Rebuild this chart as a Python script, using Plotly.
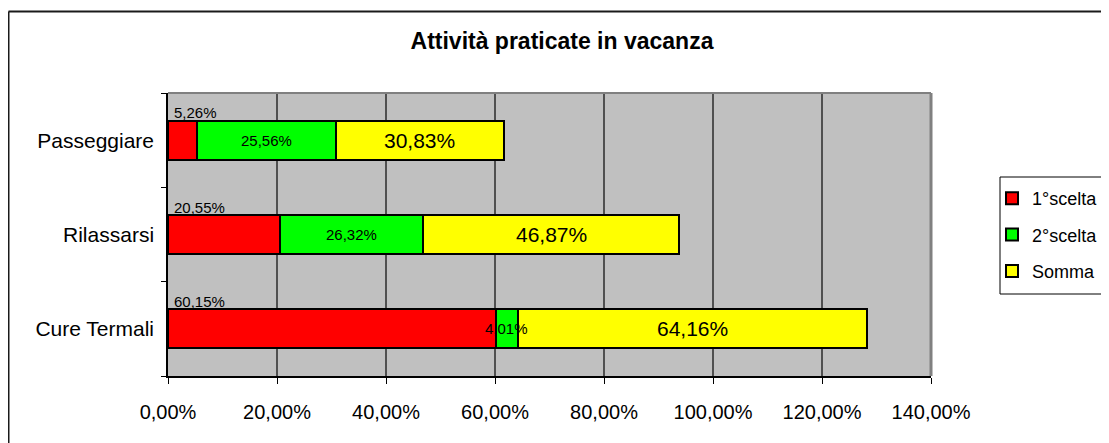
import plotly.graph_objects as go

# ---- data ----
categories = ["Cure Termali", "Rilassarsi", "Passeggiare"]  # bottom -> top
prima_scelta = [60.15, 20.55, 5.26]
seconda_scelta = [4.01, 26.32, 25.56]
somma = [64.16, 46.87, 30.83]
series_names = ["1°scelta", "2°scelta", "Somma"]
series_colors = ["#FF0000", "#00FF00", "#FFFF00"]
title_text = "Attività praticate in vacanza"
x_ticks = [0, 20, 40, 60, 80, 100, 120, 140]

FONT = "Arial, Liberation Sans, sans-serif"
OFF = 8  # the page body margin shifts the figure by this much
W, H = 1109 - OFF, 443 - OFF
L, R, T, B = 168 - OFF, 931 - OFF, 93 - OFF, 376 - OFF  # plot area in figure pixels


def fmt(v):
    return f"{v:.2f}%".replace(".", ",")


def px_x(p):  # page pixel -> paper
    return (p - OFF - L) / (R - L)


def px_y(p):
    return (B - (p - OFF)) / (B - T)


fig = go.Figure()
series = [prima_scelta, seconda_scelta, somma]
for name, vals, col in zip(series_names, series, series_colors):
    fig.add_trace(go.Bar(
        y=categories, x=vals, orientation="h", name=name,
        marker=dict(color=col, line=dict(color="#000000", width=2)),
        width=0.41, textposition="none",
        legendgroup=name, hoverinfo="skip",
    ))

# labels: 1a scelta above the bar at its left; others centred on their segment
for c, v in zip(categories, prima_scelta):
    fig.add_annotation(x=0, y=c, xref="x", yref="y", text=fmt(v),
                       showarrow=False, xanchor="left", yanchor="bottom",
                       xshift=4, yshift=17,
                       font=dict(family=FONT, size=15, color="#000000"))
for c, a, v in zip(categories, prima_scelta, seconda_scelta):
    fig.add_annotation(x=a + v / 2, y=c, xref="x", yref="y", text=fmt(v),
                       showarrow=False, xanchor="center", yanchor="middle",
                       font=dict(family=FONT, size=15, color="#000000"))
for c, a, b, v in zip(categories, prima_scelta, seconda_scelta, somma):
    fig.add_annotation(x=a + b + v / 2, y=c, xref="x", yref="y", text=fmt(v),
                       showarrow=False, xanchor="center", yanchor="middle",
                       font=dict(family=FONT, size=21, color="#000000"))

shapes = []
# plot area top & right border (gray)
shapes.append(dict(type="line", xref="paper", yref="paper", x0=0, x1=1, y0=1, y1=1,
                   line=dict(color="#808080", width=2), layer="above"))
shapes.append(dict(type="line", xref="paper", yref="paper", x0=1, x1=1, y0=0, y1=1,
                   line=dict(color="#808080", width=3), layer="above"))
# chart outer border (top & left visible)
shapes.append(dict(type="line", xref="paper", yref="paper",
                   x0=px_x(8.5), x1=px_x(1115), y0=px_y(11.5), y1=px_y(11.5),
                   line=dict(color="#1a1a1a", width=2)))
shapes.append(dict(type="line", xref="paper", yref="paper",
                   x0=px_x(8.5), x1=px_x(8.5), y0=px_y(11.5), y1=px_y(450),
                   line=dict(color="#1a1a1a", width=2)))
# legend frame
shapes.append(dict(type="rect", xref="paper", yref="paper",
                   x0=px_x(1000), x1=px_x(1103), y0=px_y(294), y1=px_y(177),
                   line=dict(color="#000000", width=1), fillcolor="rgba(0,0,0,0)"))

fig.update_layout(
    width=W, height=H,
    margin=dict(l=L, r=W - R, t=T, b=H - B, pad=0, autoexpand=False),
    paper_bgcolor="#FFFFFF", plot_bgcolor="#C0C0C0",
    barmode="stack",
    font=dict(family=FONT, color="#000000"),
    title=dict(text=title_text, x=px_x(562), xref="paper", xanchor="center",
               y=1 - (41 - OFF) / H, yref="container", yanchor="middle",
               font=dict(family=FONT, size=23, color="#000000", weight="bold")),
    shapes=shapes,
    legend=dict(x=px_x(992), y=px_y(180), xanchor="left", yanchor="top",
                xref="paper", yref="paper",
                bgcolor="rgba(0,0,0,0)", borderwidth=0,
                font=dict(family=FONT, size=18, color="#000000"),
                traceorder="grouped", tracegroupgap=10, itemwidth=30),
    showlegend=True,
)

fig.update_xaxes(range=[0, 140], tickvals=x_ticks, ticktext=[fmt(v) for v in x_ticks],
                 showgrid=True, gridcolor="#505050", gridwidth=1.5,
                 showline=True, linecolor="#000000", linewidth=2,
                 ticks="outside", ticklen=6, tickcolor="#000000", tickwidth=1,
                 tickfont=dict(family=FONT, size=20, color="#000000"),
                 ticklabelstandoff=11, zeroline=False, fixedrange=True)
fig.update_yaxes(categoryorder="array", categoryarray=categories, range=[-0.5, 2.5],
                 showgrid=False, showline=True, linecolor="#000000", linewidth=1.5,
                 ticks="outside", ticklen=5, tickcolor="#000000", tickwidth=1,
                 tickson="boundaries",
                 tickfont=dict(family=FONT, size=21, color="#000000"),
                 ticklabelstandoff=8, fixedrange=True)

fig.write_html("out.html")
